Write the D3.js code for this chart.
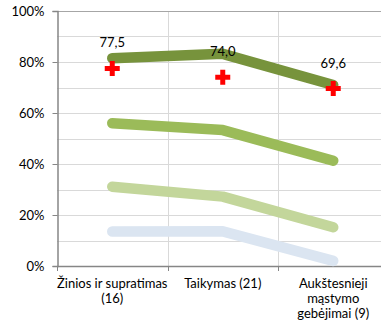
<!DOCTYPE html>
<html><head><meta charset="utf-8">
<script src="https://cdnjs.cloudflare.com/ajax/libs/d3/7.8.5/d3.min.js"></script>
<style>
html,body{margin:0;padding:0;background:#fff;}
svg{display:block;font-family:Lato,"Open Sans",sans-serif;}
</style></head><body>
<svg id="c" width="381" height="331"></svg>
<script>
const categories = [["Žinios ir supratimas","(16)"],["Taikymas (21)"],["Aukštesnieji","mąstymo","gebėjimai (9)"]];
const seriesTop = [81.5, 83.2, 71.0];
const seriesHigh = [56.0, 53.3, 41.3];
const seriesMid = [31.1, 27.2, 15.2];
const seriesLow = [13.5, 13.6, 2.0];
const markerValues = [77.5, 74.0, 69.6];
const markerLabels = ["77,5","74,0","69,6"];
const yTicks = [0,20,40,60,80,100];
const yGrid = [10,20,30,40,50,60,70,80,90,100];

const colors = ["#77933C","#9BBB59","#C3D69B","#DBE5F1"];
const allSeries = [seriesLow, seriesMid, seriesHigh, seriesTop];
const allColors = [colors[3], colors[2], colors[1], colors[0]];

const svg = d3.select("#c");
const mLeft = 57, mTop = 11, mBottom = 266, mRight = 388.5;
const idx = categories.map((d,i)=>i);
const x = d3.scaleBand().domain(idx).range([mLeft, mRight]).padding(0);
const y = d3.scaleLinear().domain([0,100]).range([mBottom, mTop]);
const cx = i => x(i) + x.bandwidth()/2;
const FS = 13;

// gridlines
svg.append("g").selectAll("line").data(yGrid).join("line")
  .attr("x1", mLeft).attr("x2", 381).attr("y1", d=>Math.round(y(d))+0.5).attr("y2", d=>Math.round(y(d))+0.5)
  .attr("stroke", "#D9D9D9").attr("stroke-width", 1);
svg.append("g").selectAll("line").data(idx.slice(1)).join("line")
  .attr("x1", d=>Math.round(x(d))+0.5).attr("x2", d=>Math.round(x(d))+0.5).attr("y1", mTop).attr("y2", mBottom)
  .attr("stroke", "#D9D9D9").attr("stroke-width", 1);
// top border
svg.append("line").attr("x1", mLeft).attr("x2", 381).attr("y1", Math.round(y(100))+0.5).attr("y2", Math.round(y(100))+0.5)
  .attr("stroke", "#A6A6A6");

// y axis
const yAxis = d3.axisLeft(y).tickValues(yTicks).tickFormat(d=>d+"%").tickSize(5).tickPadding(8);
const gy = svg.append("g").attr("transform", `translate(${mLeft+0.5},0)`).call(yAxis);
gy.select(".domain").attr("stroke", "#868686").attr("stroke-width", 1.5);
gy.selectAll(".tick line").attr("stroke", "#868686");
gy.selectAll(".tick text").attr("font-size", FS).attr("fill", "#000").attr("font-family","Lato");

// x axis line + ticks
svg.append("line").attr("x1", mLeft).attr("x2", 381).attr("y1", mBottom+0.5).attr("y2", mBottom+0.5)
  .attr("stroke", "#868686").attr("stroke-width", 1.5);
svg.append("g").selectAll("line").data(idx).join("line")
  .attr("x1", d=>Math.round(x(d))+0.5).attr("x2", d=>Math.round(x(d))+0.5).attr("y1", mBottom).attr("y2", mBottom+5)
  .attr("stroke", "#868686");

// x labels
const xl = svg.append("g").selectAll("text").data(categories).join("text")
  .attr("text-anchor","middle").attr("font-size", FS).attr("fill","#000")
  .attr("font-family","Lato")
  .attr("x", (d,i)=>cx(i)).attr("y", 288);
xl.selectAll("tspan").data((d,i)=>d.map(t=>({t,i}))).join("tspan")
  .attr("x", d=>cx(d.i)).attr("dy", (d,j)=>j===0?0:15).text(d=>d.t);

// lines
const line = d3.line().x((d,i)=>cx(i)).y(d=>y(d));
svg.append("g").selectAll("path").data(allSeries).join("path")
  .attr("d", d=>line(d)).attr("fill","none")
  .attr("stroke", (d,i)=>allColors[i]).attr("stroke-width", 10.5)
  .attr("stroke-linecap","round").attr("stroke-linejoin","round");

// markers
const sym = d3.symbol().type(d3.symbolCross).size(125);
svg.append("g").selectAll("path").data(markerValues).join("path")
  .attr("d", sym).attr("transform", (d,i)=>`translate(${cx(i)},${y(d)})`)
  .attr("fill","#FF0000");

// marker labels
svg.append("g").selectAll("text").data(markerValues).join("text")
  .attr("x", (d,i)=>cx(i)).attr("y", d=>y(d)-21)
  .attr("text-anchor","middle").attr("font-size",FS).attr("font-family","Lato").attr("fill","#000")
  .text((d,i)=>markerLabels[i]);
</script></body></html>
